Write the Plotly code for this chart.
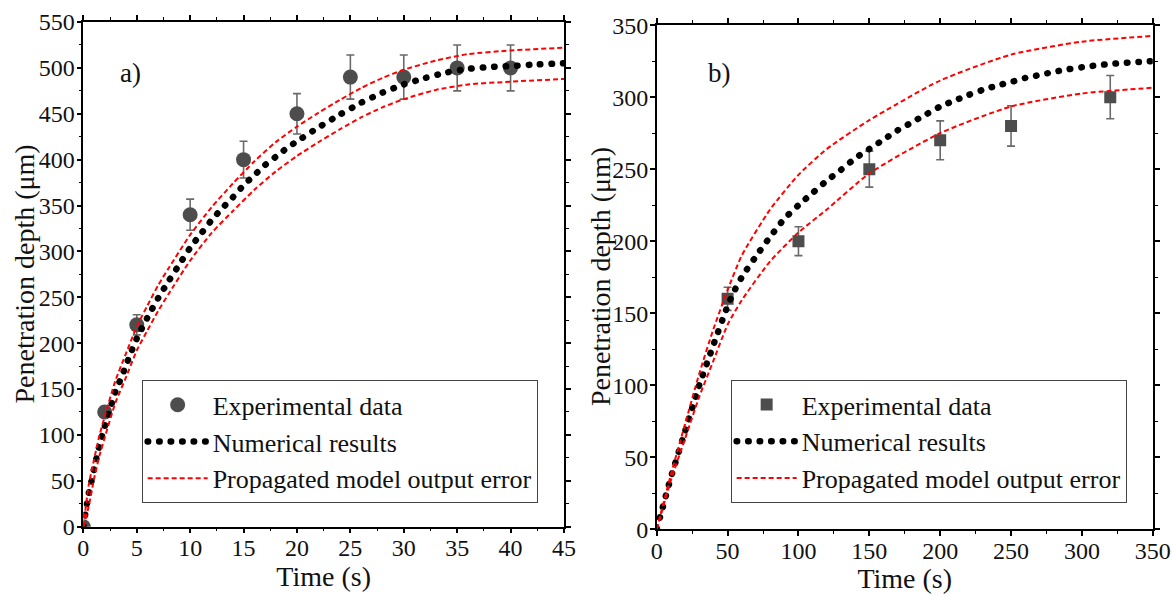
import plotly.graph_objects as go

# ---------------- Panel a) ----------------
a_exp_t = [0, 2, 5, 10, 15, 20, 25, 30, 35, 40]
a_exp_v = [0, 125, 220, 340, 400, 450, 490, 490, 500, 500]
a_exp_err = [0, 6, 11, 17, 20, 22, 24, 24, 25, 25]

a_num_t = [0, 0.25, 0.5, 0.75, 1, 1.5, 2, 2.5, 3, 3.5, 4, 4.5, 5, 6, 7, 8, 9, 10, 11, 12, 13, 14,
           15, 16, 17, 18, 19, 20, 22, 24, 26, 28, 30, 32, 34, 36, 38, 40, 42, 45]
a_num_v = [0, 19, 36, 49, 63, 88, 109, 128, 147, 161, 176, 191, 205, 228, 249, 268, 286, 304, 319,
           334, 347, 359, 372, 383, 394, 403, 412, 420, 435, 449, 462, 473, 482, 489, 495, 499, 501,
           502, 503.5, 505]

a_band_t = [0, 0.5, 1, 1.5, 2, 3, 4, 5, 6, 7, 8, 10, 12, 14, 16, 18, 20, 22, 24, 26, 28, 30, 33, 36, 40, 45]
a_upper = [0, 45, 73, 99, 120, 159, 189, 218, 241, 263, 282, 318, 348, 374, 398, 419, 436, 451, 465,
           478, 489, 498, 508, 515, 519, 522]
a_lower = [0, 22, 52, 77, 97, 135, 163, 192, 214, 235, 254, 290, 320, 344, 367, 387, 404, 419, 433,
           446, 457, 466, 476, 482, 485, 488]

# ---------------- Panel b) ----------------
b_exp_t = [50, 100, 150, 200, 250, 320]
b_exp_v = [160, 200, 250, 270, 280, 300]
b_exp_err = [8, 10, 12.5, 13.5, 14, 15]

b_num_t = [0, 2.5, 5, 10, 20, 30, 40, 50, 55, 60, 70, 80, 90, 100, 110, 120, 130, 140, 150, 160, 170,
           180, 190, 200, 210, 220, 230, 240, 250, 260, 270, 280, 290, 300, 310, 320, 330, 340, 350]
b_num_v = [0, 9, 18, 36, 68, 100, 128, 155, 166, 175, 189.5, 203, 215.5, 225, 233.5, 242, 249.5,
           257.5, 264, 270.5, 277, 282.5, 288, 293.5, 297.5, 301.5, 305, 308, 310.5, 313.3, 315.3,
           317.5, 319.3, 320.7, 322, 323, 323.8, 324.4, 325]

b_band_t = [0, 10, 20, 30, 40, 50, 60, 80, 100, 120, 150, 200, 250, 300, 350]
b_upper = [0, 38, 73, 108, 139, 166, 190, 222, 246, 264, 284, 311.5, 329.5, 338.5, 342.5]
b_lower = [0, 34, 63, 92, 117, 142, 159, 186, 206, 222, 247, 275, 293.5, 302.5, 306.5]

X_TITLE = "Time (s)"
Y_TITLE = "Penetration depth (μm)"
LEGEND_NAMES = ["Experimental data", "Numerical results", "Propagated model output error"]

FONT = "Liberation Serif"
GREY = "#4d4d4d"
ERR = "#6a6a6a"
RED = "#ff0000"
DOTS = "0.5px,11px"

fig = go.Figure()

def add_panel(xa, ya, legend, exp_t, exp_v, exp_err, symbol, msize, num_t, num_v, band_t, up, lo):
    fig.add_trace(go.Scatter(
        x=exp_t, y=exp_v, mode="markers", name=LEGEND_NAMES[0],
        marker=dict(symbol=symbol, size=msize, color=GREY),
        error_y=dict(type="data", array=exp_err, color=ERR, thickness=1.6, width=4),
        xaxis=xa, yaxis=ya, legend=legend))
    fig.add_trace(go.Scatter(
        x=num_t, y=num_v, mode="lines", name=LEGEND_NAMES[1],
        line=dict(color="rgb(0,0,0)", width=6.5, dash=DOTS, shape="spline", smoothing=0.6),
        xaxis=xa, yaxis=ya, legend=legend))
    fig.add_trace(go.Scatter(
        x=band_t, y=up, mode="lines", name=LEGEND_NAMES[2],
        line=dict(color=RED, width=2, dash="5px,3px", shape="spline", smoothing=0.6),
        xaxis=xa, yaxis=ya, legend=legend))
    fig.add_trace(go.Scatter(
        x=band_t, y=lo, mode="lines", name=LEGEND_NAMES[2], showlegend=False,
        line=dict(color=RED, width=2, dash="5px,3px", shape="spline", smoothing=0.6),
        xaxis=xa, yaxis=ya, legend=legend))

add_panel("x", "y", "legend", a_exp_t, a_exp_v, a_exp_err, "circle", 15,
          a_num_t, a_num_v, a_band_t, a_upper, a_lower)
add_panel("x2", "y2", "legend2", b_exp_t, b_exp_v, b_exp_err, "square", 12,
          b_num_t, b_num_v, b_band_t, b_upper, b_lower)

def axis_style(rng, dtick, domain, anchor, minor_dtick, lab_standoff, title=None):
    d = dict(
        range=rng, dtick=dtick, tick0=0, domain=domain, anchor=anchor,
        showgrid=False, zeroline=False, showline=True, linecolor="black", linewidth=1.5,
        mirror="ticks", ticks="outside", ticklen=5, tickwidth=1.5, tickcolor="black",
        minor=dict(dtick=minor_dtick, ticks="outside", ticklen=3, tickwidth=1.2, tickcolor="black"),
        tickfont=dict(family=FONT, size=24, color="#111"),
        ticklabelstandoff=lab_standoff,
        automargin=False,
    )
    if title:
        d["title"] = dict(text=title, font=dict(family=FONT, size=28, color="#111"), standoff=4)
    return d

def inner_ticks(rng, dtick, minor_dtick, overlaying, anchor):
    return dict(
        range=rng, dtick=dtick, tick0=0, overlaying=overlaying, anchor=anchor,
        showgrid=False, zeroline=False, showline=True, linecolor="black", linewidth=1.5,
        mirror="ticks", ticks="inside", ticklen=4, tickwidth=1.5, tickcolor="black",
        minor=dict(dtick=minor_dtick, ticks="inside", ticklen=3, tickwidth=1.2, tickcolor="black"),
        showticklabels=False, automargin=False, fixedrange=True,
    )

fig.update_layout(
    width=1172, height=594,
    margin=dict(l=80, r=16, t=20, b=64),
    paper_bgcolor="white", plot_bgcolor="white",
    font=dict(family=FONT, color="#111"),
    xaxis=axis_style([0, 45], 5, [0.0031, 0.4498], "y", 2.5, -6, X_TITLE),
    yaxis=axis_style([0, 550], 50, [0.0065, 0.996], "x", 25, -3),
    xaxis2=axis_style([0, 350], 50, [0.536, 0.997], "y2", 25, -6, X_TITLE),
    yaxis2=axis_style([0, 350], 50, [0.0014, 0.990], "x2", 25, -3),
    xaxis3=inner_ticks([0, 45], 5, 2.5, "x", "y"),
    yaxis3=inner_ticks([0, 550], 50, 25, "y", "x"),
    xaxis4=inner_ticks([0, 350], 50, 25, "x2", "y2"),
    yaxis4=inner_ticks([0, 350], 50, 25, "y2", "x2"),
    legend=dict(x=0.0573, y=0.2935, xanchor="left", yanchor="top", bgcolor="white",
                bordercolor="#444", borderwidth=1, itemwidth=60, tracegroupgap=0,
                font=dict(family=FONT, size=26, color="#111")),
    legend2=dict(x=0.6047, y=0.2941, xanchor="left", yanchor="top", bgcolor="white",
                 bordercolor="#444", borderwidth=1, itemwidth=60, tracegroupgap=0,
                 font=dict(family=FONT, size=26, color="#111")),
    showlegend=True,
    annotations=[
        dict(text="a)", xref="x domain", yref="y domain", x=0.099, y=0.90, showarrow=False,
             xanchor="center", yanchor="middle", font=dict(family=FONT, size=27, color="#111")),
        dict(text="b)", xref="x2 domain", yref="y2 domain", x=0.126, y=0.905, showarrow=False,
             xanchor="center", yanchor="middle", font=dict(family=FONT, size=27, color="#111")),
        dict(text=Y_TITLE, xref="paper", yref="paper", x=-0.052, y=0.501, textangle=-90,
             showarrow=False, xanchor="center", yanchor="middle",
             font=dict(family=FONT, size=28, color="#111")),
        dict(text=Y_TITLE, xref="paper", yref="paper", x=0.4833, y=0.496, textangle=-90,
             showarrow=False, xanchor="center", yanchor="middle",
             font=dict(family=FONT, size=28, color="#111")),
    ],
)

post = """
document.body.style.margin = '0';
document.body.style.overflow = 'hidden';
var gd = document.getElementById('{plot_id}');
function roundDots(){
  gd.querySelectorAll('path').forEach(function(p){
    var s = p.style.stroke || '';
    if (s.replace(/\\s/g,'') === 'rgb(0,0,0)' && p.style.strokeDasharray) {
      p.style.strokeLinecap = 'round';
    }
  });
}
roundDots();
gd.on('plotly_afterplot', roundDots);
"""

fig.write_html("out.html", post_script=post, config={"displayModeBar": False})
